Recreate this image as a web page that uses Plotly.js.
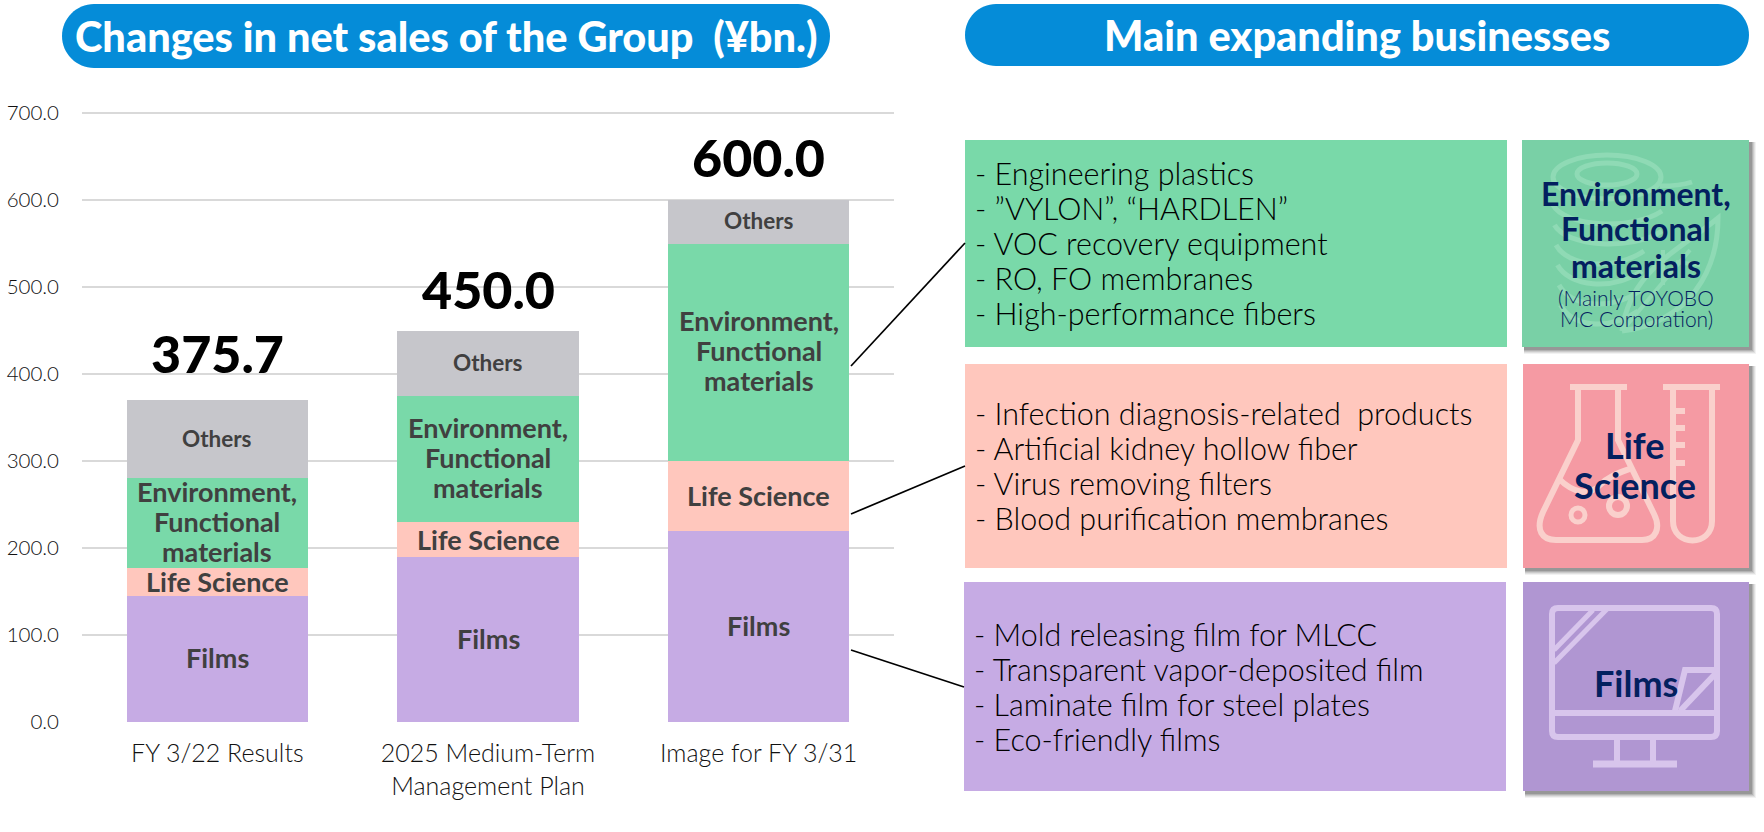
<!DOCTYPE html>
<html><head><meta charset="utf-8">
<script src="https://cdn.plot.ly/plotly-3.0.1.min.js"></script>
<style>html,body{margin:0;padding:0;background:#fff;overflow:hidden}#c{width:1764px;height:832px}</style>
</head><body><div id="c"></div>
<script>
// Data
const categories = ['FY 3/22 Results', '2025 Medium-Term<br>Management Plan', 'Image for FY 3/31'];
const films = [145, 190, 220];
const lifeScience = [32, 40, 80];
const environment = [103, 145, 250];
const others = [90, 75, 50];
const totalLabels = ['375.7', '450.0', '600.0'];
const totalLabelY = [424, 498, 649];
const tickValues = [0, 100, 200, 300, 400, 500, 600, 700];
const tickLabels = ['0.0', '100.0', '200.0', '300.0', '400.0', '500.0', '600.0', '700.0'];
const envItems = ['- Engineering plastics', '- ”VYLON”, “HARDLEN”', '- VOC recovery equipment', '- RO, FO membranes', '- High-performance fibers'];
const lifeItems = ['- Infection diagnosis-related  products', '- Artificial kidney hollow fiber', '- Virus removing filters', '- Blood purification membranes'];
const filmItems = ['- Mold releasing film for MLCC', '- Transparent vapor-deposited film', '- Laminate film for steel plates', '- Eco-friendly films'];

const W = 1764, H = 832, FONT = 'Lato, "Open Sans", sans-serif';
const C = {film:'#C6ABE4', life:'#FFC7BD', env:'#79D9A9', oth:'#C6C6CB', blue:'#058CD8', grid:'#D9D9D9', label:'#404040', navy:'#03205F',
  envI:'#79D0A6', lifeI:'#F59AA3', filmI:'#B096D2', envL:'#8FDAB5', lifeL:'#FAD0CC', filmL:'#D8C5EC'};
const px = x => x / W, py = y => 1 - y / H;
const P = (x, y) => px(x) + ',' + py(y);

const shapes = [];
function rect(x0, y0, x1, y1, fill) {
  shapes.push({type:'rect', xref:'paper', yref:'paper', x0:px(x0), x1:px(x1), y0:py(y0), y1:py(y1), fillcolor:fill, line:{width:0}, layer:'above'});
}
function path(d, color, w, fill) {
  shapes.push({type:'path', xref:'paper', yref:'paper', path:d, layer:'above', fillcolor:fill || 'rgba(0,0,0,0)', line:{color:color, width:w === undefined ? 6 : w}});
}
function seg(pts, color, w) {
  path('M' + pts.map(p => P(p[0], p[1])).join('L'), color, w);
}
function pill(x0, y0, x1, y1, fill) {
  const r = (y1 - y0) / 2, k = r * 0.45;
  path('M' + P(x0 + r, y0) + 'L' + P(x1 - r, y0) +
    'C' + P(x1 - k, y0) + ' ' + P(x1, y0 + k) + ' ' + P(x1, y0 + r) +
    'C' + P(x1, y1 - k) + ' ' + P(x1 - k, y1) + ' ' + P(x1 - r, y1) +
    'L' + P(x0 + r, y1) +
    'C' + P(x0 + k, y1) + ' ' + P(x0, y1 - k) + ' ' + P(x0, y0 + r) +
    'C' + P(x0, y0 + k) + ' ' + P(x0 + k, y0) + ' ' + P(x0 + r, y0) + 'Z', fill, 0, fill);
}
function ellipse(cx, cy, rx, ry, color, w) {
  shapes.push({type:'circle', xref:'paper', yref:'paper', x0:px(cx - rx), x1:px(cx + rx), y0:py(cy + ry), y1:py(cy - ry), line:{color:color, width:w}, fillcolor:'rgba(0,0,0,0)', layer:'above'});
}
function iconBox(x0, y0, x1, y1, fill) {
  [[7,.05],[6,.07],[5,.09],[4,.12],[3,.15]].forEach(s => rect(x0 + 2, y0 + 2, x1 + s[0], y1 + s[0], 'rgba(0,0,0,' + s[1] + ')'));
  rect(x0, y0, x1, y1, fill);
}

// Header pills
pill(62, 4, 830, 68, C.blue);
pill(965, 4, 1749, 66, C.blue);

// Panels
rect(965, 140, 1507, 347, C.env);
rect(965, 364, 1507, 568, C.life);
rect(964, 582, 1506, 791, C.film);
iconBox(1522, 140, 1749, 347, C.envI);
iconBox(1523, 364, 1749, 568, C.lifeI);
iconBox(1523, 582, 1749, 791, C.filmI);

// Connectors
seg([[851, 366], [965, 243]], '#000', 1.7);
seg([[851, 514], [965, 466]], '#000', 1.7);
seg([[851, 650], [964, 687]], '#000', 1.7);

// Spool and leaf icon
let L = C.envL;
ellipse(1607, 177, 54, 22, L, 5);
ellipse(1607, 174, 30, 11, L, 5);
[205, 225, 245, 265, 285, 305].forEach((y, i) => {
  const xl = 1553 + i * 1.5, xr = i < 2 ? 1662 : 1648 - i * 2;
  path('M' + P(xl, y) + 'C' + P(xl + 12, y + 22) + ' ' + P(xr - 30, y + 26) + ' ' + P(xr, y + 6), L, 5);
});
path('M' + P(1622, 331) + 'C' + P(1630, 270) + ' ' + P(1680, 250) + ' ' + P(1718, 218) + 'C' + P(1718, 270) + ' ' + P(1690, 322) + ' ' + P(1622, 331), L, 5);
seg([[1622, 331], [1690, 250]], L, 4);
seg([[1663, 285], [1663, 250]], L, 4);
seg([[1676, 262], [1700, 265]], L, 4);
path('M' + P(1660, 186) + 'C' + P(1670, 186) + ' ' + P(1680, 186) + ' ' + P(1692, 182), L, 5);

// Flask and test tube icon
L = C.lifeL;
seg([[1570, 387], [1627, 387]], L, 6);
path('M' + P(1578, 387) + 'L' + P(1578, 440) + 'L' + P(1543, 512) +
  'C' + P(1535, 530) + ' ' + P(1542, 540) + ' ' + P(1556, 540) + 'L' + P(1642, 540) +
  'C' + P(1656, 540) + ' ' + P(1661, 528) + ' ' + P(1654, 514) + 'L' + P(1618, 440) + 'L' + P(1618, 387), L, 6);
path('M' + P(1558, 478) + 'C' + P(1575, 495) + ' ' + P(1590, 495) + ' ' + P(1600, 485) + 'C' + P(1610, 475) + ' ' + P(1622, 472) + ' ' + P(1632, 468), L, 6);
ellipse(1578, 515, 7, 7, L, 5);
ellipse(1618, 506, 9, 9, L, 6);
seg([[1663, 387], [1720, 387]], L, 6);
path('M' + P(1673, 387) + 'L' + P(1673, 521) + 'C' + P(1673, 547) + ' ' + P(1712, 547) + ' ' + P(1712, 521) + 'L' + P(1712, 387), L, 6);
[411, 428, 445, 463].forEach(y => seg([[1675, y], [1685, y]], L, 6));

// Monitor icon
L = C.filmL;
path('M' + P(1558, 608) + 'L' + P(1711, 608) + 'C' + P(1715, 608) + ' ' + P(1717, 610) + ' ' + P(1717, 614) + 'L' + P(1717, 731) +
  'C' + P(1717, 735) + ' ' + P(1715, 737) + ' ' + P(1711, 737) + 'L' + P(1558, 737) + 'C' + P(1554, 737) + ' ' + P(1552, 735) + ' ' + P(1552, 731) +
  'L' + P(1552, 614) + 'C' + P(1552, 610) + ' ' + P(1554, 608) + ' ' + P(1558, 608) + 'Z', L, 6);
seg([[1552, 713], [1717, 713]], L, 6);
seg([[1617, 737], [1617, 764]], L, 6);
seg([[1653, 737], [1653, 764]], L, 6);
seg([[1593, 764], [1677, 764]], L, 7);
seg([[1554, 650], [1593, 610]], L, 5);
seg([[1554, 663], [1608, 608]], L, 5);
seg([[1675, 711], [1685, 670], [1717, 670]], L, 6);
seg([[1680, 711], [1717, 672]], L, 6);

// Text
const ann = [];
function note(text, x, y, size, color, weight, align) {
  ann.push({text:text, xref:'paper', yref:'paper', x:px(x), y:py(y), xanchor:align || 'center', yanchor:'middle', align:align || 'center',
    showarrow:false, font:{family:FONT, size:size, color:color, weight:weight}});
}
function lines(items, x, ys, size, color, weight, align) {
  items.forEach((t, i) => note(t, x, ys[i], size, color, weight, align));
}
note('Changes in net sales of the Group\u00A0 (¥bn.)', 446, 36, 41.5, '#fff', 900);
note('Main expanding businesses', 1357, 35, 41.5, '#fff', 900);
lines(envItems, 973, [173, 208, 243, 278, 313], 30.5, '#000', 300, 'left');
lines(lifeItems, 973, [413, 448, 483, 518], 30.5, '#000', 300, 'left');
lines(filmItems, 972, [634, 669, 704, 739], 30.5, '#000', 300, 'left');
lines(['Environment,', 'Functional', 'materials'], 1636, [194, 229, 265], 32, C.navy, 700);
lines(['(Mainly TOYOBO', 'MC Corporation)'], 1636, [298, 318], 21, C.navy, 300);
lines(['Life', 'Science'], 1635, [445, 485], 36, C.navy, 700);
note('Films', 1636, 683, 36, C.navy, 700);
categories.forEach((c, i) => ann.push({text:totalLabels[i], xref:'x', yref:'y', x:c, y:totalLabelY[i], yanchor:'middle', xanchor:'center',
  showarrow:false, font:{family:FONT, size:52, color:'#000', weight:900}}));

// Segment labels, anchored on the data scale
function segLabels(base, values, labelLines, size, nudge) {
  categories.forEach((c, i) => {
    const mid = base[i] + values[i] / 2;
    labelLines.forEach((t, j) => ann.push({text:t, xref:'x', yref:'y', x:c, y:mid, yanchor:'middle', xanchor:'center',
      yshift:((labelLines.length - 1) / 2 - j) * 30 + nudge, showarrow:false, font:{family:FONT, size:size, color:C.label, weight:700}}));
  });
}
const zeros = films.map(() => 0);
const s1 = films, s2 = films.map((v, i) => v + lifeScience[i]), s3 = s2.map((v, i) => v + environment[i]);
segLabels(zeros, films, ['Films'], 27, 1);
segLabels(s1, lifeScience, ['Life Science'], 27, 0);
segLabels(s2, environment, ['Environment,', 'Functional', 'materials'], 27, 1.5);
segLabels(s3, others, ['Others'], 22.5, 1);

function bar(name, values, color) {
  return {type:'bar', name:name, x:categories, y:values, marker:{color:color, line:{width:0}}, hoverinfo:'skip'};
}
const data = [
  bar('Films', films, C.film),
  bar('Life Science', lifeScience, C.life),
  bar('Environment, Functional materials', environment, C.env),
  bar('Others', others, C.oth)
];
const layout = {
  width:W, height:H, margin:{l:0, r:0, t:0, b:0}, paper_bgcolor:'#fff', plot_bgcolor:'#fff', showlegend:false,
  barmode:'stack', bargap:0.33, font:{family:FONT},
  xaxis:{domain:[px(82), px(894)], type:'category', showgrid:false, zeroline:false, showline:false, ticks:'', tickangle:0,
    tickfont:{family:FONT, size:25, color:'#111', weight:300}, ticklabelstandoff:14},
  yaxis:{domain:[py(722), py(722 - 0.87 * 705)], range:[0, 705], tickmode:'array', tickvals:tickValues, ticktext:tickLabels, showgrid:true, gridcolor:C.grid, gridwidth:2,
    zeroline:false, showline:false, ticks:'', tickfont:{family:FONT, size:20.5, color:'#111', weight:300}, ticklabelstandoff:22},
  shapes:shapes, annotations:ann
};
Plotly.newPlot('c', data, layout, {displayModeBar:false, staticPlot:true});
</script></body></html>
